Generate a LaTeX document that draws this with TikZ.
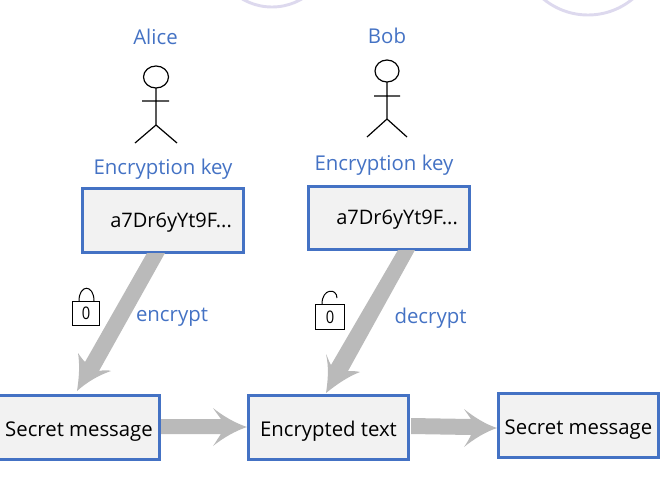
\documentclass[tikz,border=0pt]{standalone}
\usepackage{fontspec}
\setmainfont{Open Sans}
\definecolor{boxblue}{HTML}{4472C4}
\definecolor{boxfill}{HTML}{F2F2F2}
\definecolor{arrowgray}{HTML}{BABABA}
\definecolor{ringc}{HTML}{DDD9EE}
\newcommand{\boxtxt}[1]{\raisebox{-6.8pt}[0pt][0pt]{#1}}
\tikzset{
  x=0.75pt,y=-0.75pt,
  msgbox/.style={draw=boxblue,fill=boxfill,line width=2.1pt,minimum width=120.5pt,minimum height=47.5pt,inner sep=0pt,font=\fontsize{15.25}{18}\selectfont,text=black},
  keytext/.style={anchor=west,inner sep=0pt,font=\fontsize{15}{18}\selectfont,text=black},
  bluelabel/.style={text=boxblue,inner sep=0pt,font=\fontsize{15.3}{18}\selectfont},
  stick/.style={draw=black,line width=0.9pt},
  lockline/.style={draw=black,line width=0.75pt},
  fatarrow/.style={fill=arrowgray,draw=none},
  ring/.style={draw=ringc,line width=2.2pt},
  lockdigit/.style={inner sep=0pt,font=\fontsize{13}{14}\selectfont,text=black,xscale=0.85}
}
\begin{document}
\begin{tikzpicture}
\path[use as bounding box] (0,0) rectangle (666,486);
\begin{scope}
\clip (0,0) rectangle (666,486);
\draw[ring] (272,-52) circle[radius=59*0.75pt];
\draw[ring] (588,-55) circle[radius=70*0.75pt];
\node[msgbox] (key1) at (163,220.5) {};
\node[msgbox] (key2) at (389,218) {};
\node[msgbox] (msg1) at (79,427.5) {\boxtxt{Secret message}};
\node[msgbox] (enc) at (328.5,427.5) {\boxtxt{Encrypted text}};
\node[msgbox] (msg2) at (578.5,425.5) {\boxtxt{Secret message}};
\end{scope}
\node[keytext] (k1t) at (110,222.5) {a7Dr6yYt9F...};
\node[keytext] (k2t) at (336,219.5) {a7Dr6yYt9F...};
% labels
\node[bluelabel] (alice) at (155.5,37) {Alice};
\node[bluelabel] (bob) at (387,36) {Bob};
\node[bluelabel] (ek1) at (163,169) {Encryption key};
\node[bluelabel] (ek2) at (384,165) {Encryption key};
\node[bluelabel] (encl) at (172,317) {encrypt};
\node[bluelabel] (decl) at (430.5,318) {decrypt};
% stick figures
\draw[stick] (156,77) ellipse[x radius=12.5*0.75pt,y radius=11*0.75pt];
\draw[stick] (156,88) -- (156,125) (142,101) -- (169,101) (135,143) -- (156,125) -- (177,143);
\draw[stick] (387,71) ellipse[x radius=12*0.75pt,y radius=11*0.75pt];
\draw[stick] (387,82) -- (387,119) (374,96) -- (400,96) (367,137) -- (387,119) -- (407,137);
% locks
\draw[lockline,fill=white] (72.5,301) rectangle (99,325);
\draw[lockline] (79,301) .. controls (79,284) and (94,284) .. (94,301);
\node[lockdigit] (d1) at (86,313) {0};
\draw[lockline,fill=white] (315,304) rectangle (344,329);
\draw[lockline] (322,304) .. controls (322,288) and (337,288) .. (337,298);
\node[lockdigit] (d2) at (330,317) {0};
% arrows
\fill[fatarrow] (147,253) -- (165,253) -- (99,371) .. controls (104,370) and (108,370) .. (111,371) .. controls (99,375) and (87,382) .. (77,391) .. controls (79,378) and (80,365) .. (78,353) .. controls (80,356) and (83,360) .. (85,362) -- cycle;
\fill[fatarrow] (398,250) -- (415,250) -- (348,371) .. controls (352,371) and (356,371) .. (360,372) .. controls (347,377) and (336,385) .. (326,393) .. controls (328,380) and (329,367) .. (326,354) .. controls (328,358) and (329,362) .. (331,365) -- cycle;
\fill[fatarrow] (161,419) -- (221,419) .. controls (218,415) and (215,411) .. (213,408) .. controls (223,416) and (235,423) .. (247,427) .. controls (235,431) and (223,438) .. (213,446) .. controls (216,442) and (218,438) .. (221,434) -- (161,434) -- cycle;
\fill[fatarrow] (411,418) -- (471,419) .. controls (469,416) and (466,412) .. (464,409) .. controls (474,417) and (485,424) .. (497,428) .. controls (485,432) and (474,439) .. (464,447) .. controls (467,443) and (469,439) .. (471,435) -- (411,434) -- cycle;
\end{tikzpicture}
\end{document}
